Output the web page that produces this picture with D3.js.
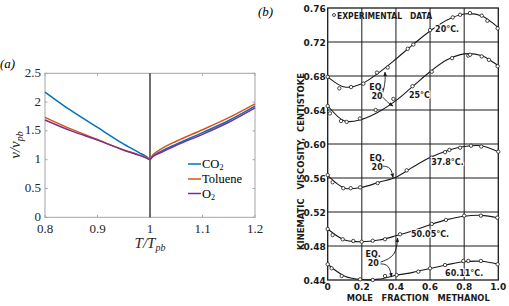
<!DOCTYPE html>
<html>
<head>
<meta charset="utf-8">
<script src="https://cdn.jsdelivr.net/npm/d3@7"></script>
<style>
  body { margin: 0; background: #fff; }
  svg { display: block; }
</style>
</head>
<body>
<div id="chart"></div>
<script>
// ---- panel (a) data ----
const tLeft = [0.8, 0.85, 0.9, 0.95, 0.98, 0.99, 0.995, 1.0];
const co2Left = [2.175, 1.85, 1.56, 1.27, 1.12, 1.07, 1.04, 1.0];
const tolLeft = [1.735, 1.53, 1.35, 1.17, 1.08, 1.045, 1.025, 1.0];
const o2Left = [1.69, 1.50, 1.34, 1.165, 1.075, 1.04, 1.02, 1.0];

const tRight = [1.0, 1.005, 1.01, 1.02, 1.05, 1.1, 1.15, 1.2];
const co2Right = [1.0, 1.06, 1.09, 1.14, 1.27, 1.47, 1.68, 1.93];
const tolRight = [1.0, 1.08, 1.12, 1.18, 1.32, 1.52, 1.73, 1.97];
const o2Right = [1.0, 1.05, 1.08, 1.12, 1.25, 1.44, 1.65, 1.90];

const xTicksA = [0.8, 0.9, 1, 1.1, 1.2];
const yTicksA = [0, 0.5, 1, 1.5, 2, 2.5];

// ---- panel (b) data ----
const molFrac = [0, 0.1, 0.2, 0.3, 0.4, 0.5, 0.6, 0.7, 0.8, 0.9, 1.0];
const fit20 = [0.679, 0.667, 0.671, 0.684, 0.700, 0.717, 0.733, 0.746, 0.753, 0.751, 0.737];
const fit25 = [0.645, 0.627, 0.629, 0.638, 0.651, 0.668, 0.685, 0.699, 0.706, 0.704, 0.692];
const fit378 = [0.563, 0.548, 0.549, 0.555, 0.561, 0.573, 0.584, 0.592, 0.597, 0.598, 0.591];
const fit5005 = [0.500, 0.487, 0.485, 0.487, 0.492, 0.498, 0.505, 0.511, 0.515, 0.516, 0.513];
const fit6011 = [0.4585, 0.4445, 0.4405, 0.441, 0.4455, 0.449, 0.4535, 0.458, 0.4615, 0.462, 0.4585];

const exp20 = [[0, 0.679], [0.068, 0.6655], [0.137, 0.667], [0.209, 0.671], [0.289, 0.684], [0.352, 0.690],
  [0.469, 0.712], [0.502, 0.717], [0.6, 0.734], [0.733, 0.749], [0.776, 0.752], [0.834, 0.754],
  [0.903, 0.751], [0.936, 0.745], [0.996, 0.736]];
const exp25 = [[0, 0.6447], [0.013, 0.636], [0.078, 0.627], [0.111, 0.626], [0.189, 0.630], [0.281, 0.640],
  [0.385, 0.653], [0.497, 0.668], [0.61, 0.685], [0.729, 0.701], [0.824, 0.704], [0.835, 0.705],
  [0.903, 0.703], [0.945, 0.699], [0.996, 0.6915]];
const exp378 = [[0, 0.5635], [0.029, 0.555], [0.091, 0.548], [0.135, 0.548], [0.19, 0.549], [0.293, 0.554],
  [0.463, 0.569], [0.61, 0.584], [0.688, 0.5904], [0.713, 0.593], [0.776, 0.5956], [0.84, 0.598],
  [0.9, 0.597], [1.0, 0.591]];
const exp5005 = [[0, 0.500], [0.029, 0.4929], [0.088, 0.4879], [0.15, 0.4859], [0.199, 0.485], [0.264, 0.4862],
  [0.336, 0.488], [0.424, 0.4938], [0.61, 0.5059], [0.693, 0.5106], [0.8, 0.5157], [0.898, 0.5157],
  [0.994, 0.5133]];
const exp6011 = [[0, 0.4585], [0.023, 0.4538], [0.082, 0.4447], [0.19, 0.4408], [0.264, 0.440], [0.336, 0.4447],
  [0.404, 0.4459], [0.531, 0.4498], [0.6, 0.4538], [0.688, 0.4576], [0.795, 0.4624], [0.824, 0.4624],
  [0.898, 0.4624], [0.996, 0.4585]];

const xTicksB = [0, 0.2, 0.4, 0.6, 0.8, 1.0];
const yTicksB = [0.44, 0.48, 0.52, 0.56, 0.60, 0.64, 0.68, 0.72, 0.76];

const width = 509, height = 306;

const svg = d3.select("#chart").append("svg")
  .attr("width", width)
  .attr("height", height);

// ================= panel (a) =================
const serif = "'Liberation Serif', 'Times New Roman', serif";
const xA = d3.scaleLinear().domain([0.8, 1.2]).range([45, 255]);
const yA = d3.scaleLinear().domain([0, 2.5]).range([217.3, 73.3]);
const frameColor = "#a6a6a6";

const gA = svg.append("g");

// frame
gA.append("rect")
  .attr("x", xA(0.8)).attr("y", yA(2.5))
  .attr("width", xA(1.2) - xA(0.8)).attr("height", yA(0) - yA(2.5))
  .attr("fill", "none").attr("stroke", frameColor).attr("stroke-width", 1);

// inward ticks
xTicksA.forEach(t => {
  gA.append("line").attr("x1", xA(t)).attr("x2", xA(t)).attr("y1", yA(0)).attr("y2", yA(0) - 2.5)
    .attr("stroke", frameColor);
  gA.append("line").attr("x1", xA(t)).attr("x2", xA(t)).attr("y1", yA(2.5)).attr("y2", yA(2.5) + 2.5)
    .attr("stroke", frameColor);
});
yTicksA.forEach(t => {
  gA.append("line").attr("x1", xA(0.8)).attr("x2", xA(0.8) + 2.5).attr("y1", yA(t)).attr("y2", yA(t))
    .attr("stroke", frameColor);
  gA.append("line").attr("x1", xA(1.2)).attr("x2", xA(1.2) - 2.5).attr("y1", yA(t)).attr("y2", yA(t))
    .attr("stroke", frameColor);
});

// tick labels
gA.selectAll(".xtl").data(xTicksA).enter().append("text")
  .attr("x", d => xA(d)).attr("y", yA(0) + 15.5)
  .attr("text-anchor", "middle")
  .attr("font-family", serif).attr("font-size", 13).attr("fill", "#262626")
  .text(d => d3.format("")(d));
gA.selectAll(".ytl").data(yTicksA).enter().append("text")
  .attr("x", xA(0.8) - 4).attr("y", d => yA(d) + 3.5)
  .attr("text-anchor", "end")
  .attr("font-family", serif).attr("font-size", 13).attr("fill", "#262626")
  .text(d => d3.format("")(d));

// vertical line at T = Tpb
gA.append("line")
  .attr("x1", xA(1)).attr("x2", xA(1)).attr("y1", yA(0)).attr("y2", yA(2.5))
  .attr("stroke", "#4d4d4d").attr("stroke-width", 1.6);

const lineA = d3.line().x(d => xA(d[0])).y(d => yA(d[1])).curve(d3.curveMonotoneX);
const seriesA = [
  { name: "CO2", color: "#0072BD", left: co2Left, right: co2Right },
  { name: "Toluene", color: "#D95319", left: tolLeft, right: tolRight },
  { name: "O2", color: "#7E2F8E", left: o2Left, right: o2Right }
];
seriesA.forEach(s => {
  gA.append("path").datum(d3.zip(tLeft, s.left))
    .attr("d", lineA).attr("fill", "none").attr("stroke", s.color).attr("stroke-width", 1.5);
  gA.append("path").datum(d3.zip(tRight, s.right))
    .attr("d", lineA).attr("fill", "none").attr("stroke", s.color).attr("stroke-width", 1.5);
});

// legend
const legendY = [164, 179, 193.5];
seriesA.forEach((s, i) => {
  gA.append("line").attr("x1", 188).attr("x2", 201).attr("y1", legendY[i]).attr("y2", legendY[i])
    .attr("stroke", s.color).attr("stroke-width", 1.5);
  const t = gA.append("text").attr("x", 202).attr("y", legendY[i] + 4)
    .attr("font-family", serif).attr("font-size", 12.5).attr("fill", "#000");
  if (s.name === "Toluene") {
    t.text("Toluene");
  } else {
    t.append("tspan").text(s.name.slice(0, -1));
    t.append("tspan").attr("font-size", 8).attr("dy", 2).text("2");
  }
});

// axis labels
const xlab = gA.append("text")
  .attr("x", xA(1)).attr("y", 248)
  .attr("text-anchor", "middle")
  .attr("font-family", serif).attr("font-size", 15).attr("font-style", "italic").attr("fill", "#262626");
xlab.append("tspan").text("T/T");
xlab.append("tspan").attr("font-size", 10).attr("dy", 3).text("pb");

const ylab = gA.append("text")
  .attr("transform", "translate(20,145) rotate(-90)")
  .attr("text-anchor", "middle")
  .attr("font-family", serif).attr("font-size", 15).attr("font-style", "italic").attr("fill", "#262626");
ylab.append("tspan").text("ν/ν");
ylab.append("tspan").attr("font-size", 10).attr("dy", 3).text("pb");

gA.append("text").attr("x", 0).attr("y", 68)
  .attr("font-family", serif).attr("font-size", 13).attr("font-style", "italic").text("(a)");

// ================= panel (b) =================
const sans = "'DejaVu Sans', sans-serif";
const ink = "#1a1a1a";
const xB = d3.scaleLinear().domain([0, 1]).range([327.7, 498.3]);
const yB = d3.scaleLinear().domain([0.44, 0.76]).range([280, 8]);

const gB = svg.append("g");

// grid
gB.selectAll(".gx").data(xTicksB.slice(1, -1)).enter().append("line")
  .attr("x1", d => xB(d)).attr("x2", d => xB(d)).attr("y1", yB(0.44)).attr("y2", yB(0.76))
  .attr("stroke", ink).attr("stroke-width", 1);
gB.selectAll(".gy").data(yTicksB.slice(1, -1)).enter().append("line")
  .attr("x1", xB(0)).attr("x2", xB(1)).attr("y1", d => yB(d)).attr("y2", d => yB(d))
  .attr("stroke", ink).attr("stroke-width", 1);
gB.append("rect")
  .attr("x", xB(0)).attr("y", yB(0.76))
  .attr("width", xB(1) - xB(0)).attr("height", yB(0.44) - yB(0.76))
  .attr("fill", "none").attr("stroke", ink).attr("stroke-width", 1.3);

// tick labels
gB.selectAll(".ytb").data(yTicksB).enter().append("text")
  .attr("x", xB(0) - 2).attr("y", d => yB(d) + 3.5)
  .attr("text-anchor", "end")
  .attr("font-family", sans).attr("font-weight", "bold").attr("font-size", 9).attr("fill", ink)
  .text(d => d3.format(".2f")(d));
gB.selectAll(".xtb").data(xTicksB).enter().append("text")
  .attr("x", d => xB(d)).attr("y", 290)
  .attr("text-anchor", "middle")
  .attr("font-family", sans).attr("font-weight", "bold").attr("font-size", 9).attr("fill", ink)
  .text(d => d === 0 ? "0" : d3.format(".1f")(d));

gB.append("text")
  .attr("x", 346.7).attr("y", 301)
  .attr("textLength", 143).attr("lengthAdjust", "spacingAndGlyphs")
  .style("white-space", "pre")
  .attr("font-family", sans).attr("font-weight", "bold").attr("font-size", 8.5).attr("fill", ink)
  .text("MOLE   FRACTION   METHANOL");

gB.append("text")
  .attr("transform", "translate(304,250) rotate(-90)")
  .attr("textLength", 177).attr("lengthAdjust", "spacingAndGlyphs")
  .style("white-space", "pre")
  .attr("font-family", sans).attr("font-weight", "bold").attr("font-size", 8.5).attr("fill", ink)
  .text("KINEMATIC   VISCOSITY,  CENTISTOKE");

// curves + experimental points
const lineB = d3.line().x(d => xB(d[0])).y(d => yB(d[1])).curve(d3.curveCatmullRom);
const seriesB = [
  { fit: fit20, pts: exp20 },
  { fit: fit25, pts: exp25 },
  { fit: fit378, pts: exp378 },
  { fit: fit5005, pts: exp5005 },
  { fit: fit6011, pts: exp6011 }
];
seriesB.forEach(s => {
  gB.append("path").datum(d3.zip(molFrac, s.fit))
    .attr("d", lineB).attr("fill", "none").attr("stroke", ink).attr("stroke-width", 1.1);
  gB.selectAll(null).data(s.pts).enter().append("circle")
    .attr("cx", d => xB(d[0])).attr("cy", d => yB(d[1])).attr("r", 1.7)
    .attr("fill", "#fff").attr("stroke", ink).attr("stroke-width", 0.8);
});

// temperature labels
const tempLabels = [
  { text: "20°C.", x: 0.70, y: 0.7353 },
  { text: "25°C", x: 0.538, y: 0.6576 },
  { text: "37.8°C.", x: 0.702, y: 0.5788 },
  { text: "50.05°C.", x: 0.60, y: 0.494 },
  { text: "60.11°C.", x: 0.80, y: 0.4486 }
];
gB.selectAll(".tl").data(tempLabels).enter().append("text")
  .attr("x", d => xB(d.x)).attr("y", d => yB(d.y) + 3)
  .attr("text-anchor", "middle")
  .attr("font-family", sans).attr("font-weight", "bold").attr("font-size", 8).attr("fill", ink)
  .attr("paint-order", "stroke").attr("stroke", "#fff").attr("stroke-width", 2)
  .text(d => d.text);

// legend text
gB.append("circle").attr("cx", 334).attr("cy", 15).attr("r", 1.5)
  .attr("fill", "#fff").attr("stroke", ink).attr("stroke-width", 0.8);
gB.append("text").attr("x", 337).attr("y", 18.5)
  .attr("textLength", 65).attr("lengthAdjust", "spacingAndGlyphs")
  .attr("font-family", sans).attr("font-weight", "bold").attr("font-size", 8).attr("fill", ink)
  .text("EXPERIMENTAL");
gB.append("text").attr("x", 410).attr("y", 18.5)
  .attr("textLength", 22).attr("lengthAdjust", "spacingAndGlyphs")
  .attr("font-family", sans).attr("font-weight", "bold").attr("font-size", 8).attr("fill", ink)
  .text("DATA");

// "EQ. 20" annotations with arrows
const eqNotes = [
  { x: 0.289, y: 0.6667, arrows: [[[0.324, 0.661], [0.338, 0.673], [0.336, 0.6847]], [[0.324, 0.655], [0.35, 0.649], [0.383, 0.6447]]] },
  { x: 0.29, y: 0.584, arrows: [[[0.324, 0.574], [0.37, 0.573], [0.383, 0.5605]]] },
  { x: 0.267, y: 0.4702, arrows: [[[0.31, 0.461], [0.40, 0.468], [0.41, 0.4894]], [[0.31, 0.459], [0.36, 0.458], [0.375, 0.4435]]] }
];
const defs = svg.append("defs");
defs.append("marker").attr("id", "ah").attr("viewBox", "0 0 10 10")
  .attr("refX", 9).attr("refY", 5).attr("markerWidth", 5).attr("markerHeight", 5)
  .attr("orient", "auto")
  .append("path").attr("d", "M0,1L10,5L0,9Z").attr("fill", ink);
const arrowLine = d3.line().x(d => xB(d[0])).y(d => yB(d[1])).curve(d3.curveBasis);
eqNotes.forEach(n => {
  gB.append("text").attr("x", xB(n.x)).attr("y", yB(n.y) + 3)
    .attr("text-anchor", "middle")
    .attr("font-family", sans).attr("font-weight", "bold").attr("font-size", 8).attr("fill", ink)
    .attr("paint-order", "stroke").attr("stroke", "#fff").attr("stroke-width", 2)
    .text("EQ.");
  gB.append("text").attr("x", xB(n.x)).attr("y", yB(n.y - 0.0105) + 3)
    .attr("text-anchor", "middle")
    .attr("font-family", sans).attr("font-weight", "bold").attr("font-size", 8).attr("fill", ink)
    .attr("paint-order", "stroke").attr("stroke", "#fff").attr("stroke-width", 2)
    .text("20");
  n.arrows.forEach(a => {
    gB.append("path").datum(a).attr("d", arrowLine)
      .attr("fill", "none").attr("stroke", ink).attr("stroke-width", 0.9)
      .attr("marker-end", "url(#ah)");
  });
});

gB.append("text").attr("x", 258).attr("y", 16)
  .attr("font-family", serif).attr("font-size", 13).attr("font-style", "italic").text("(b)");
</script>
</body>
</html>
